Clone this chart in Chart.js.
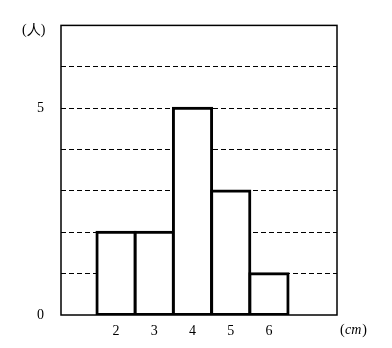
<!DOCTYPE html>
<html>
<head>
<meta charset="utf-8">
<script src="https://cdn.jsdelivr.net/npm/chart.js@4"></script>
<style>
  body { margin: 0; background: #fff; }
</style>
</head>
<body>
<canvas id="chart" width="392" height="348"></canvas>
<script>
const sizes = [2, 3, 4, 5, 6]
const counts = [2, 2, 5, 3, 1]
const yLabels = [0, 5]

const serif = '"Liberation Serif", "DejaVu Serif", serif'

// frame + unit labels
const framePlugin = {
    id: 'frame',
    afterDraw(chart) {
        const { ctx, chartArea: a } = chart
        ctx.save()
        ctx.strokeStyle = '#000'
        ctx.lineWidth = 1.5
        ctx.strokeRect(a.left, a.top, a.right - a.left, a.bottom - a.top)
        ctx.fillStyle = '#000'
        ctx.font = '14px ' + serif
        ctx.textBaseline = 'middle'
        ctx.textAlign = 'left'
        ctx.fillText('(人)', 22, 30)
        ctx.fillText('(', 340, 330)
        ctx.font = 'italic 14px ' + serif
        ctx.fillText('cm', 345, 330)
        const w = ctx.measureText('cm').width
        ctx.font = '14px ' + serif
        ctx.fillText(')', 345 + w + 1, 330)
        ctx.restore()
    }
}

new Chart(document.getElementById('chart'), {
    type: 'bar',
    data: {
        datasets: [{
            data: sizes.map((s, i) => ({ x: s, y: counts[i] })),
            backgroundColor: '#fff',
            borderColor: '#000',
            borderWidth: 3,
            borderSkipped: false,
            inflateAmount: 1.5,
            barPercentage: 1,
            categoryPercentage: 1,
        }]
    },
    options: {
        responsive: false,
        animation: false,
        layout: { padding: { left: 0, right: 55, top: 24, bottom: 0 } },
        plugins: { legend: { display: false }, tooltip: { enabled: false } },
        scales: {
            x: {
                type: 'linear',
                offset: false,
                min: 0.56,
                max: 7.78,
                afterBuildTicks: s => { s.ticks = sizes.map(v => ({ value: v })) },
                afterFit: s => { s.height = 33 },
                grid: { display: false, drawTicks: false },
                border: { display: false },
                ticks: { color: '#000', padding: 8, font: { family: serif, size: 14 } }
            },
            y: {
                min: 0,
                max: 7,
                afterBuildTicks: s => { s.ticks = [0, 1, 2, 3, 4, 5, 6, 7].map(v => ({ value: v })) },
                afterFit: s => { s.width = 61 },
                grid: {
                    drawTicks: false,
                    lineWidth: 1,
                    color: c => (c.tick && c.tick.value > 0 && c.tick.value < 7) ? '#000' : 'rgba(0,0,0,0)'
                },
                border: { display: false, dash: [5, 3] },
                ticks: {
                    color: '#000',
                    padding: 17,
                    font: { family: serif, size: 14 },
                    callback: v => yLabels.includes(v) ? String(v) : ''
                }
            }
        }
    },
    plugins: [framePlugin]
})
</script>
</body>
</html>
